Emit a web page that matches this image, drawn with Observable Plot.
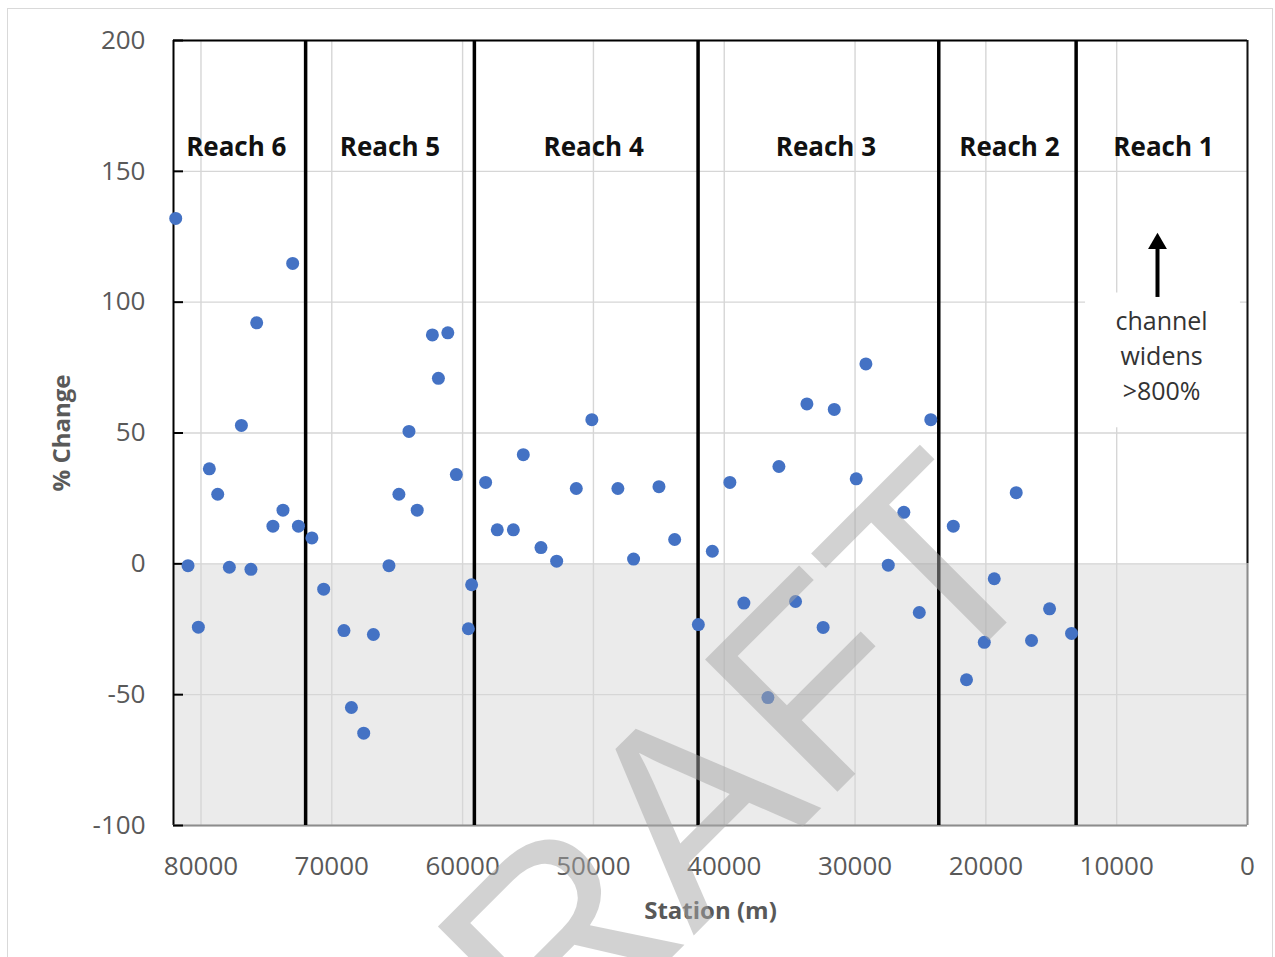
<!DOCTYPE html>
<html>
<head>
<meta charset="utf-8">
<script src="https://cdn.jsdelivr.net/npm/d3@7"></script>
<script src="https://cdn.jsdelivr.net/npm/@observablehq/plot@0.6"></script>
<style>
  html, body { margin: 0; padding: 0; background: #fff; }
  #wrap { position: relative; width: 1275px; height: 957px; overflow: hidden; }
  #border { position: absolute; left: 7px; top: 8px; width: 1264px; height: 990px; border: 1.5px solid #d9d9d9; pointer-events: none; }
</style>
</head>
<body>
<div id="wrap"><div id="border"></div><div id="chart"></div></div>
<script>
// ---- data ----
const stations = [81930, 80990, 80200, 79360, 78720, 77830, 76910, 76180, 75740, 74500, 73730, 72990, 72550,
  71520, 70620, 69070, 68500, 67560, 66820, 65630, 64870, 64100, 63470, 62310, 61850, 61130, 60480, 59560, 59310,
  58240, 57350, 56120, 55360, 54010, 52810, 51310, 50120, 48130, 46930, 44990, 43790, 41980,
  40910, 39570, 38500, 36660, 35820, 34550, 33680, 32440, 31590, 29910, 29170, 27460, 26270, 25090, 24210,
  22490, 21480, 20120, 19360, 17680, 16510, 15130, 13450];
const pctChange = [132.0, -0.7, -24.2, 36.3, 26.6, -1.3, 52.9, -2.1, 92.1, 14.4, 20.5, 114.8, 14.4,
  9.9, -9.7, -25.5, -54.9, -64.7, -27.0, -0.7, 26.6, 50.6, 20.5, 87.5, 70.9, 88.3, 34.1, -24.8, -8.0,
  31.1, 13.0, 13.0, 41.7, 6.2, 1.0, 28.8, 55.1, 28.8, 1.8, 29.5, 9.3, -23.2,
  4.8, 31.1, -15.0, -51.1, 37.2, -14.4, 61.1, -24.3, 59.0, 32.5, 76.4, -0.5, 19.7, -18.6, 55.1,
  14.4, -44.3, -30.0, -5.7, 27.2, -29.3, -17.2, -26.6];
const reachBoundaries = [72000, 59100, 42000, 23600, 13100];
const reachNames = ["Reach 6", "Reach 5", "Reach 4", "Reach 3", "Reach 2", "Reach 1"];
const reachLabelStations = [77300, 65550, 49980, 32230, 18200, 6420];
const reachLabelY = 159;
const xTicks = [80000, 70000, 60000, 50000, 40000, 30000, 20000, 10000, 0];
const yTicks = [-100, -50, 0, 50, 100, 150, 200];
const xDomain = [82100, 0];
const yDomain = [-100, 200];
// annotation (Reach 1)
const noteText = "channel\nwidens\n>800%";
const noteStation = 6570;
const noteY = 80.3;
const noteBox = {x1: 12380, x2: 540, y1: 52, y2: 103.5};
const arrowStation = 6880;
const arrowTail = 101.8;
const arrowHeadY = 122.4;
const arrowShaftEnd = 121;
const watermark = {text: "DRAFT", x: 43800, y: -102.3};

const data = stations.map((s, i) => ({station: s, pct: pctChange[i]}));

const W = 1275, H = 957;
const mL = 173, mT = 40, mR = 28, mB = 132;
const frameW = W - mL - mR;

const chart = Plot.plot({
  width: W,
  height: H,
  marginLeft: mL,
  marginTop: mT,
  marginRight: mR,
  marginBottom: mB,
  style: {fontFamily: "'Open Sans', sans-serif", fontSize: "26px", color: "#595959", background: "transparent"},
  x: {domain: xDomain, axis: null},
  y: {domain: yDomain, axis: null},
  marks: [
    // shaded negative region
    Plot.rect([0], {x1: xDomain[0], x2: xDomain[1], y1: yDomain[0], y2: 0, fill: "#ebebeb"}),
    // gridlines
    Plot.gridX(xTicks, {stroke: "#d6d6d6", strokeOpacity: 1, strokeWidth: 1.4}),
    Plot.gridY(yTicks, {stroke: "#d6d6d6", strokeOpacity: 1, strokeWidth: 1.4}),
    // white box behind annotation
    Plot.rect([noteBox], {x1: "x1", x2: "x2", y1: "y1", y2: "y2", fill: "#ffffff"}),
    // frame
    Plot.ruleY([yDomain[1]], {stroke: "#000", strokeWidth: 2}),
    Plot.ruleX([xDomain[0]], {y1: yDomain[0], y2: yDomain[1], stroke: "#000", strokeWidth: 2}),
    Plot.ruleX([xDomain[1]], {y1: 0, y2: yDomain[1], stroke: "#111", strokeWidth: 2}),
    Plot.ruleX([xDomain[1]], {y1: yDomain[0], y2: 0, stroke: "#8c8c8c", strokeWidth: 2}),
    Plot.ruleY([yDomain[0]], {stroke: "#8c8c8c", strokeWidth: 2}),
    // small inward y ticks
    Plot.tickY(yTicks, {y: d => d, insetRight: frameW - 10, stroke: "#000", strokeWidth: 2}),
    // reach boundaries
    Plot.ruleX(reachBoundaries, {x: d => d, y1: yDomain[0], y2: yDomain[1], stroke: "#000", strokeWidth: 3.5}),
    // data points
    Plot.dot(data, {x: "station", y: "pct", r: 6.5, fill: "#4472C4", stroke: "none"}),
    // reach labels
    Plot.text(reachNames, {x: (d, i) => reachLabelStations[i], y: reachLabelY, text: d => d,
      fontWeight: "bold", fontSize: 26, fill: "#111"}),
    // annotation text + arrow
    Plot.text([noteText], {x: noteStation, y: noteY, text: d => d, fontSize: 25, lineHeight: 1.4, fill: "#333"}),
    Plot.ruleX([arrowStation], {x: d => d, y1: arrowTail, y2: arrowShaftEnd, stroke: "#000", strokeWidth: 4}),
    Plot.dot([arrowStation], {x: d => d, y: arrowHeadY, symbol: "triangle", r: 7, fill: "#000", stroke: "none"}),
    // axes
    Plot.axisX(xTicks, {anchor: "bottom", tickSize: 0, tickPadding: 31, tickFormat: d => String(d),
      label: null, fontSize: 26, fill: "#595959"}),
    Plot.axisY(yTicks, {anchor: "left", tickSize: 0, tickPadding: 28, tickFormat: d => String(d),
      label: null, fontSize: 26, fill: "#595959"}),
    // axis titles
    Plot.text(["% Change"], {frameAnchor: "left", dx: -111, rotate: -90, text: d => d,
      textAnchor: "middle", lineAnchor: "middle",
      fontWeight: "bold", fontSize: 24, fill: "#595959"}),
    Plot.text(["Station (m)"], {frameAnchor: "bottom", dy: 86, text: d => d,
      textAnchor: "middle", lineAnchor: "middle",
      fontWeight: "bold", fontSize: 24, fill: "#595959"}),
    // watermark
    Plot.text([watermark], {x: "x", y: "y", text: "text", rotate: -45, fontSize: 272,
      fontFamily: "'Liberation Sans', Arial, sans-serif", fill: "#a6a6a6", fillOpacity: 0.5})
  ]
});
document.getElementById("chart").appendChild(chart);
</script>
</body>
</html>
